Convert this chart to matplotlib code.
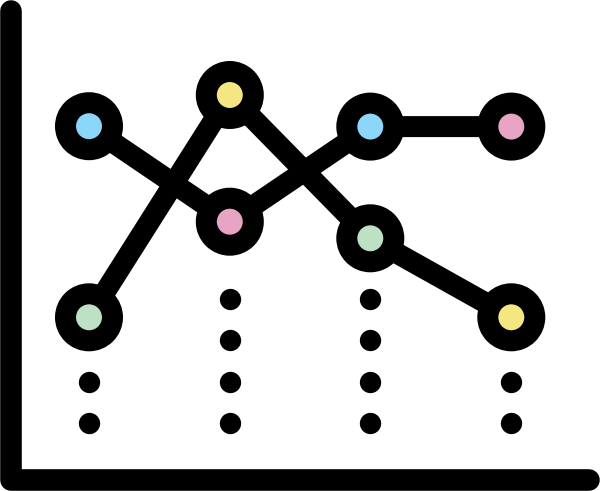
import matplotlib
matplotlib.use("Agg")
import matplotlib.pyplot as plt

xs = [89, 229.8, 370.3, 511.3]
upper_values = [126.2, 221.7, 126.6, 126.6]
lower_values = [317.3, 95, 238.3, 317.3]
upper_colors = ["#8cd6fa", "#e8a4c4", "#8cd6fa", "#e8a4c4"]
lower_colors = ["#bee1c6", "#f4e680", "#bee1c6", "#f4e680"]
dot_x = [89, 89, 229.8, 229.8, 229.8, 229.8, 370.3, 370.3, 370.3, 370.3, 511.3, 511.3]
dot_y = [381.7, 423.3, 298.7, 340, 381.7, 423.3, 298.7, 340, 381.7, 423.3, 381.7, 423.3]
axis_x = [10.8, 10.8, 589]
axis_y = [10.8, 480.2, 480.2]

PX = 72 / 100
fig = plt.figure(figsize=(6.0, 4.91), dpi=100)
ax = fig.add_axes([0, 0, 1, 1])
ax.set_xlim(0, 600)
ax.set_ylim(491, 0)
ax.axis("off")

ax.plot(axis_x, axis_y, color="black", lw=21.6 * PX, solid_capstyle="round", solid_joinstyle="round")
ax.plot(xs, upper_values, color="black", lw=21 * PX, solid_joinstyle="miter")
ax.plot(xs, lower_values, color="black", lw=21 * PX, solid_joinstyle="miter")
ax.scatter(dot_x, dot_y, s=(21.3 * PX) ** 2, color="black", linewidths=0, zorder=3)
ax.scatter(xs, upper_values, s=(47 * PX) ** 2, c=upper_colors, edgecolors="black", linewidths=21 * PX, zorder=4)
ax.scatter(xs, lower_values, s=(47 * PX) ** 2, c=lower_colors, edgecolors="black", linewidths=21 * PX, zorder=4)

fig.savefig("out.png", dpi=100, facecolor="white")
